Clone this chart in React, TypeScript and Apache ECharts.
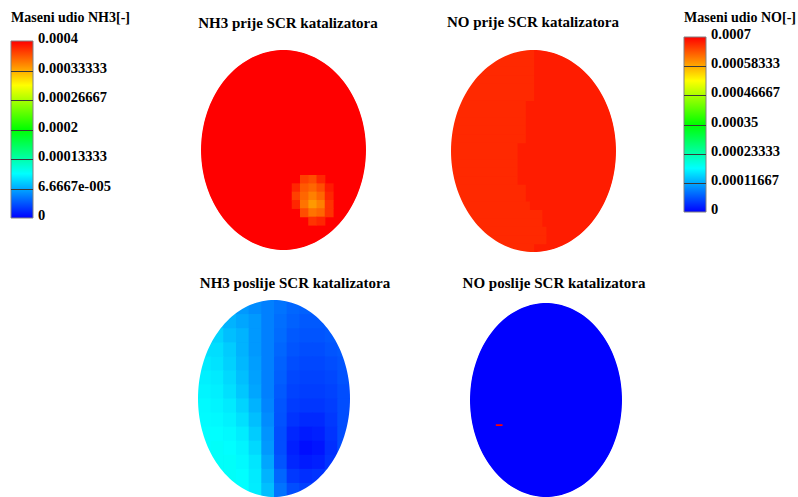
import React, { useEffect, useRef } from "react";
import * as echarts from "echarts";

// ---------- colour map (rainbow, blue -> red) ----------
const jetColors = [
  "#0000ff", "#0055ff", "#00aaff", "#00ffff", "#00ffaa", "#00ff55", "#00ff00",
  "#55ff00", "#aaff00", "#ffff00", "#ffaa00", "#ff5500", "#ff0000",
];

// ---------- colour bars ----------
const nh3Max = 0.0004;
const noMax = 0.0007;
const nh3TickLabels = ["0", "6.6667e-005", "0.00013333", "0.0002", "0.00026667", "0.00033333", "0.0004"];
const noTickLabels = ["0", "0.00011667", "0.00023333", "0.00035", "0.00046667", "0.00058333", "0.0007"];
const nh3BarTitle = "Maseni udio NH3[-]";
const noBarTitle = "Maseni udio NO[-]";

// ---------- panel titles ----------
const panelTitles = [
  "NH3 prije SCR katalizatora",
  "NO prije SCR katalizatora",
  "NH3 poslije SCR katalizatora",
  "NO poslije SCR katalizatora",
];

// ---------- panel 1: NH3 before catalyst (20 x 24 cell grid) ----------
const nh3BeforeBase = 0.0004;
const nh3BeforeCols = 20;
const nh3BeforeRows = 24;
const nh3BeforeHotspot: [number, number, number][] = [
  [12, 15, 3.75e-4], [13, 15, 3.7e-4], [14, 15, 3.85e-4],
  [11, 16, 3.85e-4], [12, 16, 3.65e-4], [13, 16, 3.6e-4], [14, 16, 3.7e-4], [15, 16, 3.9e-4],
  [11, 17, 3.75e-4], [12, 17, 3.6e-4], [13, 17, 3.5e-4], [14, 17, 3.6e-4], [15, 17, 3.85e-4],
  [11, 18, 3.85e-4], [12, 18, 3.55e-4], [13, 18, 3.4e-4], [14, 18, 3.5e-4], [15, 18, 3.8e-4],
  [12, 19, 3.7e-4], [13, 19, 3.55e-4], [14, 19, 3.6e-4], [15, 19, 3.8e-4],
  [13, 20, 3.8e-4], [14, 20, 3.85e-4],
];

// ---------- panel 2: NO before catalyst (40 x 24 grid, two zones) ----------
const noBeforeRight = 0.000681;
const noBeforeLeft = 0.000672;
const noBeforeCols = 40;
const noBeforeRows = 24;
const noBeforeSplit = [20, 20, 20, 20, 20, 20, 18, 18, 18, 18, 18, 16, 16, 16, 16, 16, 18, 18, 19, 22, 22, 23, 23, 20];

// ---------- panel 3: NH3 after catalyst (12 x 14 grid, values x1e-5) ----------
const nh3AfterUnit = 1e-5;
const nh3AfterBase = 5e-5;
const nh3AfterGrid: number[][] = [
  [6, 6, 6, 6, 5.5, 5, 4.5, 4, 3.8, 3.5, 3.5, 3.5],
  [7.5, 7.5, 7, 6.5, 6, 5, 4.3, 3.8, 3.5, 3.5, 3.5, 3.5],
  [8.3, 8.3, 7.5, 7, 6, 5, 4.2, 3.5, 3.3, 3.3, 3.5, 3.5],
  [8.8, 8.7, 8, 7, 6, 5, 4, 3.3, 3, 3, 3.3, 3.5],
  [9.2, 8.9, 8.2, 7.2, 6.2, 5, 3.8, 3, 2.8, 2.8, 3, 3.3],
  [9.4, 9.2, 8.5, 7.5, 6.3, 5, 3.7, 2.8, 2.6, 2.6, 2.8, 3.2],
  [9.6, 9.4, 8.8, 7.8, 6.5, 5, 3.5, 2.6, 2.4, 2.4, 2.6, 3],
  [9.8, 9.6, 9.2, 8.3, 7, 5.2, 3.3, 2.3, 2.1, 2.1, 2.4, 3],
  [9.9, 9.8, 9.5, 8.8, 7.5, 5.5, 3.2, 2, 1.6, 1.6, 2.2, 3],
  [10, 10, 9.8, 9.3, 8, 5.8, 3, 1.5, 1, 1.2, 2, 3],
  [10, 10.2, 10, 9.6, 8.5, 6, 3, 1.2, 0.5, 0.8, 1.8, 3],
  [10, 10.2, 10.2, 9.8, 9, 6.5, 3.3, 1.5, 1, 1.2, 2, 3],
  [10, 10, 10.2, 10, 9.2, 7, 4, 2.2, 1.8, 2, 2.5, 3],
  [10, 10, 10, 10, 9.3, 7.5, 4.5, 3, 2.5, 2.5, 3, 3],
];

// ---------- panel 4: NO after catalyst ----------
const noAfterBase = 0;
// [x0, x1, y0, y1, value] in the panel's normalised coordinates
const noAfterStreak: [number, number, number, number, number] = [-0.66, -0.58, 0.25, 0.262, 0.0007];

// ---------- build items: [x0, x1, y0, y1, value, kind] kind 0 = ellipse, 1 = cell, 2 = mask ----------
type Item = [number, number, number, number, number, number];
const cell = (col: number, row: number, cols: number, rows: number, value: number, span = 1): Item => [
  -1 + (2 * col) / cols,
  -1 + (2 * (col + span)) / cols,
  -1 + (2 * row) / rows,
  -1 + (2 * (row + 1)) / rows,
  value,
  1,
];
const base = (v: number): Item => [-1, 1, -1, 1, v, 0];
const mask: Item = [-1, 1, -1, 1, 0, 2];

const panel1: Item[] = [
  base(nh3BeforeBase),
  ...nh3BeforeHotspot.map(([c, r, v]) => cell(c, r, nh3BeforeCols, nh3BeforeRows, v)),
  mask,
];
const panel2: Item[] = [
  base(noBeforeRight),
  ...noBeforeSplit.map((n, r) => cell(0, r, noBeforeCols, noBeforeRows, noBeforeLeft, n)),
  mask,
];
const panel3: Item[] = [
  base(nh3AfterBase),
  ...nh3AfterGrid.flatMap((row, r) =>
    row.map((v, c) => cell(c, r, row.length, nh3AfterGrid.length, v * nh3AfterUnit))
  ),
  mask,
];
const panel4: Item[] = [base(noAfterBase), [...noAfterStreak, 1] as Item, mask];

const ellipsePoints = (cx: number, cy: number, rx: number, ry: number, n: number, dir: number) => {
  const pts: number[][] = [];
  for (let i = 0; i <= n; i++) {
    const t = Math.PI + (dir * i * 2 * Math.PI) / n;
    pts.push([cx + rx * Math.cos(t), cy + ry * Math.sin(t)]);
  }
  return pts;
};

const renderField = (_params: any, api: any) => {
  const x0 = api.value(0), x1 = api.value(1), y0 = api.value(2), y1 = api.value(3);
  const kind = api.value(5);
  const a = api.coord([x0, y0]);
  const b = api.coord([x1, y1]);
  const left = Math.min(a[0], b[0]), right = Math.max(a[0], b[0]);
  const top = Math.min(a[1], b[1]), bottom = Math.max(a[1], b[1]);
  const color = api.visual("color");
  if (kind === 1) {
    return {
      type: "rect",
      shape: { x: left, y: top, width: right - left + 0.6, height: bottom - top + 0.6 },
      style: { fill: color },
    };
  }
  const cx = (left + right) / 2, cy = (top + bottom) / 2;
  const rx = (right - left) / 2, ry = (bottom - top) / 2;
  if (kind === 0) {
    return {
      type: "polygon",
      shape: { points: ellipsePoints(cx, cy, rx + 0.5, ry + 0.5, 120, 1) },
      style: { fill: color },
    };
  }
  const pad = 8;
  const L = cx - rx - pad, R = cx + rx + pad, T = cy - ry - pad, B = cy + ry + pad;
  const pts = [[L, cy], [L, T], [R, T], [R, B], [L, B], [L, cy], ...ellipsePoints(cx, cy, rx, ry, 160, -1)];
  return { type: "polygon", shape: { points: pts }, style: { fill: "#ffffff" }, z2: 100 };
};

// labels in the reference sit ~3px above their division lines
const barOffset = 3;
const renderBar = (_params: any, api: any) => {
  const tl = api.coord([0, 6]);
  const br = api.coord([1, 0]);
  const x = tl[0], y = tl[1] + barOffset, w = br[0] - tl[0], h = br[1] - tl[1];
  const n = jetColors.length;
  const stops = jetColors.map((_, i) => ({ offset: i / (n - 1), color: jetColors[n - 1 - i] }));
  const children: any[] = [
    {
      type: "rect",
      shape: { x, y, width: w, height: h },
      style: { fill: new echarts.graphic.LinearGradient(0, 0, 0, 1, stops), stroke: "#808080", lineWidth: 1 },
    },
  ];
  for (let k = 1; k < 6; k++) {
    const yy = Math.round(api.coord([0, k])[1] + barOffset) + 0.5;
    children.push({
      type: "line",
      shape: { x1: x, y1: yy, x2: x + w, y2: yy },
      style: { stroke: "#3a3a3a", lineWidth: 1 },
    });
  }
  return { type: "group", children };
};

const panelGrids = [
  { left: 201, top: 50, width: 165, height: 200 },
  { left: 451, top: 50, width: 165, height: 202 },
  { left: 198, top: 300, width: 152, height: 200 },
  { left: 470, top: 303, width: 152, height: 200 },
];
const barGrids = [
  { left: 11, top: 41 - barOffset, width: 22, height: 177 },
  { left: 684, top: 37 - barOffset, width: 22, height: 175 },
];
const titlePos = [
  [288, 23],
  [533, 22],
  [295, 283],
  [554, 283],
];

export default function App() {
  const ref = useRef<HTMLDivElement>(null);
  useEffect(() => {
    if (!ref.current) return;
    const chart = echarts.init(ref.current, null, { renderer: "svg" });
    const serif = "'Liberation Serif', 'Times New Roman', serif";
    const labelStyle = {
      fontFamily: serif,
      fontWeight: "bold" as const,
      fontSize: 14.5,
      color: "#000",
      margin: 5,
    };
    const panelData = [panel1, panel2, panel3, panel4];
    chart.setOption({
      animation: false,
      backgroundColor: "#ffffff",
      grid: [...panelGrids, ...barGrids].map((g) => ({ ...g, containLabel: false })),
      xAxis: [
        ...panelGrids.map((_, i) => ({ type: "value", min: -1, max: 1, show: false, gridIndex: i })),
        { type: "value", min: 0, max: 1, show: false, gridIndex: 4 },
        { type: "value", min: 0, max: 1, show: false, gridIndex: 5 },
      ],
      yAxis: [
        ...panelGrids.map((_, i) => ({ type: "value", min: -1, max: 1, inverse: true, show: false, gridIndex: i })),
        ...[nh3TickLabels, noTickLabels].map((labels, j) => ({
          type: "value",
          min: 0,
          max: 6,
          interval: 1,
          position: "right",
          gridIndex: 4 + j,
          axisLine: { show: false },
          axisTick: { show: false },
          splitLine: { show: false },
          axisLabel: { ...labelStyle, formatter: (v: number) => labels[Math.round(v)] },
        })),
      ],
      visualMap: [
        { type: "continuous", show: false, min: 0, max: nh3Max, dimension: 4, seriesIndex: [0, 2], inRange: { color: jetColors } },
        { type: "continuous", show: false, min: 0, max: noMax, dimension: 4, seriesIndex: [1, 3], inRange: { color: jetColors } },
      ],
      series: [
        ...panelData.map((data, i) => ({
          type: "custom",
          xAxisIndex: i,
          yAxisIndex: i,
          renderItem: renderField,
          data,
          clip: false,
          silent: true,
        })),
        { type: "custom", xAxisIndex: 4, yAxisIndex: 4, renderItem: renderBar, data: [[0, 0]], silent: true },
        { type: "custom", xAxisIndex: 5, yAxisIndex: 5, renderItem: renderBar, data: [[0, 0]], silent: true },
      ],
      graphic: [
        ...panelTitles.map((t, i) => ({
          type: "text",
          x: titlePos[i][0],
          y: titlePos[i][1],
          style: {
            text: t,
            font: `bold 15px ${serif}`,
            fill: "#000",
            align: "center",
            verticalAlign: "middle",
            textAlign: "center",
            textVerticalAlign: "middle",
          },
        })),
        {
          type: "text",
          x: 11,
          y: 17,
          style: { text: nh3BarTitle, font: `bold 14px ${serif}`, fill: "#000", verticalAlign: "middle", textVerticalAlign: "middle" },
        },
        {
          type: "text",
          x: 684,
          y: 17,
          style: { text: noBarTitle, font: `bold 14px ${serif}`, fill: "#000", verticalAlign: "middle", textVerticalAlign: "middle" },
        },
      ],
    });
    return () => chart.dispose();
  }, []);
  return <div ref={ref} style={{ position: "absolute", left: 0, top: 0, width: 798, height: 497 }} />;
}
